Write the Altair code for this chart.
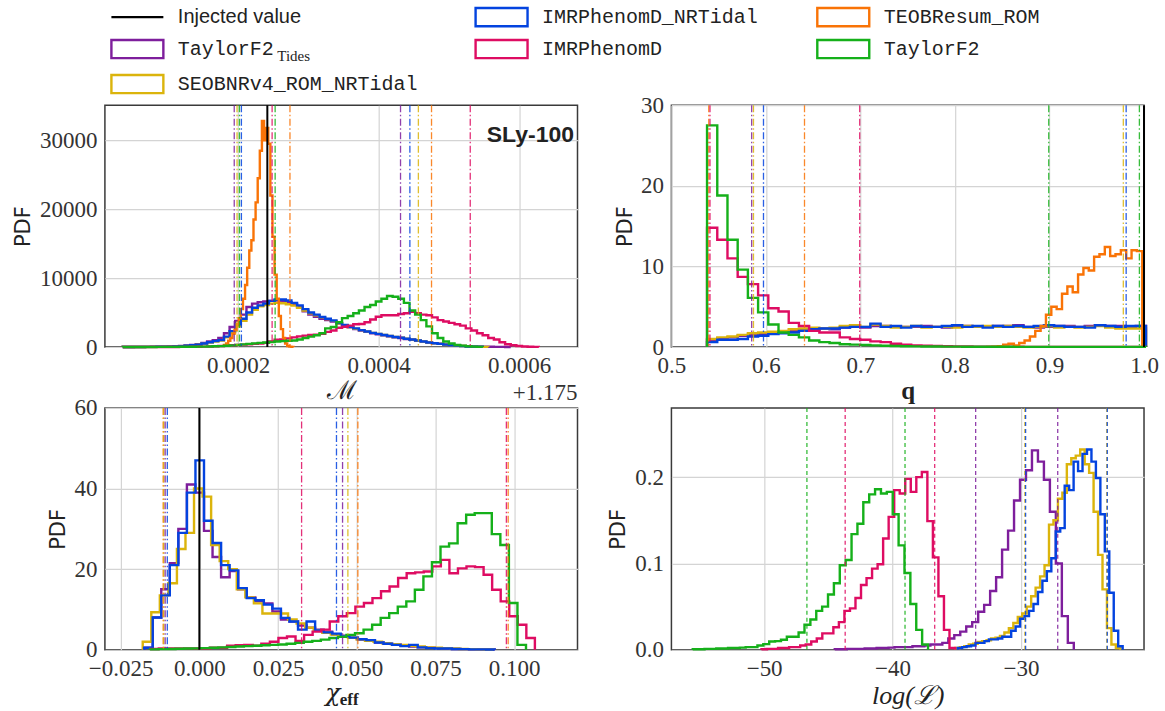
import altair as alt
import pandas as pd

# ---------------- series / colours ----------------
TF2T, SEOB, NRT, IMRD, TEOB, TF2 = ("TaylorF2_Tides", "SEOBNRv4_ROM_NRTidal", "IMRPhenomD_NRTidal",
                                     "IMRPhenomD", "TEOBResum_ROM", "TaylorF2")
COLOR = {TF2T: "#7e1e9c", SEOB: "#dbb40c", NRT: "#0343df", IMRD: "#de0c62", TEOB: "#f97306", TF2: "#15b01a"}

# ---------------- chirp mass (minus 1.175) ----------------
MC_START, MC_WIDTH = 0.000036, 0.000008
MC_TF2T = [10, 10, 15, 20, 25, 30, 40, 50, 70, 100, 150, 220, 300, 420, 600, 800, 1000, 1300, 2000, 2900, 3800,
           4700, 5800, 6300, 6500, 6600, 6700, 6750, 6700, 6500, 6200, 5800, 5200, 4700, 4400, 4100, 3900, 3700,
           3400, 3100, 2850, 2600, 2400, 2200, 2000, 1850, 1700, 1550, 1400, 1300, 1150, 1050, 900, 780, 650, 560,
           470, 380, 300, 230, 170, 120, 90, 60, 40, 30, 20, 15, 10]
MC_SEOB = [5, 5, 10, 10, 15, 20, 25, 35, 45, 70, 110, 160, 230, 330, 480, 650, 800, 950, 1400, 2100, 3000, 3800,
           4700, 5400, 5900, 6100, 6300, 6400, 6350, 6200, 6000, 5700, 5300, 4900, 4600, 4300, 4050, 3800, 3450,
           3150, 2900, 2650, 2450, 2250, 2050, 1900, 1750, 1600, 1450, 1350, 1200, 1100, 950, 800, 650, 550, 450,
           350, 260, 200, 140, 90, 60, 35, 20]
MC_NRT = [5, 5, 10, 10, 15, 20, 30, 40, 50, 80, 120, 180, 250, 350, 500, 700, 850, 1000, 1500, 2300, 3300, 4100,
          5000, 5700, 6050, 6300, 6700, 6900, 6900, 6750, 6400, 6050, 5500, 5000, 4700, 4350, 4100, 3850, 3500,
          3200, 2950, 2700, 2450, 2250, 2050, 1900, 1750, 1600, 1450, 1350, 1200, 1100, 950, 800, 650, 550, 450,
          350, 250, 200, 130, 80, 50, 30]
MC_IMRD = [5, 5, 5, 5, 5, 10, 10, 10, 10, 10, 20, 20, 30, 40, 60, 80, 110, 150, 200, 250, 300, 350, 400, 450, 500,
           600, 800, 1050, 1100, 1250, 1400, 1550, 1650, 1750, 1800, 1900, 2200, 2400, 2800, 2950, 3100, 3300, 3350,
           3600, 4000, 4400, 4600, 4600, 4600, 4800, 4900, 5100, 4900, 4700, 4600, 4300, 3900, 3700, 3500, 3300,
           3100, 2700, 2400, 2000, 1700, 1300, 1100, 700, 400, 250, 150, 80, 40, 20]
MC_TF2 = [5, 5, 5, 10, 10, 10, 15, 15, 20, 20, 30, 30, 40, 50, 60, 80, 100, 130, 180, 230, 300, 380, 450, 520, 600,
          650, 720, 800, 850, 900, 950, 1100, 1300, 1500, 1700, 2000, 2700, 2900, 3600, 4200, 4500, 4900, 5300, 5800,
          6100, 6600, 7000, 7400, 7300, 7000, 6400, 5300, 4700, 3900, 3000, 2000, 1300, 800, 500, 300, 200, 100,
          50, 20]
MC_TEOB_START, MC_TEOB_WIDTH = 0.000180, 0.000003
MC_TEOB = [300, 500, 900, 1300, 1900, 2500, 3300, 4200, 5500, 7000, 9000, 11500, 14000, 15500, 18500, 21000, 24500,
           28500, 32800, 30000, 31800, 29500, 22000, 16000, 10500, 7000, 4500, 2600, 1300, 500, 150, 50, 20]
MC_CI_X = [0.0001946, 0.0001986, 0.000202, 0.0002048, 0.0002485, 0.0002528, 0.0002739,
           0.0004312, 0.0004445, 0.0004566, 0.0004753, 0.0005304]
MC_CI_S = [TF2T, SEOB, TF2, NRT, IMRD, TF2, TEOB, TF2T, NRT, SEOB, TEOB, IMRD]
MC_INJ = 0.0002417

# ---------------- mass ratio q ----------------
Q_START, Q_WIDTH = 0.5377, 0.0108
Q_TF2 = [27.5, 18.8, 13.3, 9.6, 6.1, 4.3, 2.8, 1.8, 1.5, 1.2, 0.8, 0.6, 0.5, 0.35, 0.3, 0.25, 0.2, 0.15, 0.12, 0.1,
         0.08, 0.07, 0.06, 0.05, 0.05, 0.04, 0.04, 0.03, 0.03, 0.03, 0.02, 0.02, 0.02, 0.02, 0.02, 0.02, 0.01, 0.01,
         0.01, 0.01, 0.01, 0.01, 0.01]
Q_IMRD = [14.8, 13.3, 11.0, 8.7, 7.8, 6.4, 4.8, 4.4, 3.0, 2.6, 2.0, 1.8, 1.8, 1.2, 1.0, 0.9, 0.7, 0.6, 0.4, 0.3,
          0.2, 0.15, 0.12, 0.1, 0.08, 0.06, 0.05, 0.04, 0.04, 0.03, 0.03, 0.02, 0.02, 0.02, 0.02, 0.01, 0.01, 0.01,
          0.01, 0.01, 0.01, 0.01, 0.01]
Q_NRT = [0.6, 0.9, 0.9, 1.0, 1.3, 1.4, 1.6, 1.7, 1.8, 2.0, 2.2, 2.3, 2.3, 2.4, 2.5, 2.5, 2.9, 2.5, 2.6, 2.4, 2.6,
         2.5, 2.5, 2.6, 2.7, 2.5, 2.6, 2.4, 2.6, 2.5, 2.6, 2.5, 2.6, 2.7, 2.6, 2.5, 2.5, 2.4, 2.7, 2.6, 2.5, 2.6, 2.6]
Q_TF2T = [0.9, 1.1, 1.2, 1.4, 1.5, 1.6, 1.8, 1.9, 2.0, 2.1, 2.1, 2.3, 2.2, 2.4, 2.5, 2.4, 2.6, 2.6, 2.5, 2.5, 2.5,
          2.6, 2.5, 2.4, 2.6, 2.6, 2.5, 2.5, 2.6, 2.6, 2.7, 2.5, 2.4, 2.5, 2.6, 2.6, 2.5, 2.6, 2.7, 2.6, 2.6, 2.5, 2.6]
Q_SEOB = [1.0, 1.2, 1.3, 1.5, 1.7, 1.8, 1.9, 2.0, 2.2, 2.3, 2.4, 2.3, 2.4, 2.6, 2.7, 2.5, 2.8, 2.6, 2.4, 2.5, 2.6,
          2.4, 2.5, 2.5, 2.4, 2.6, 2.5, 2.6, 2.5, 2.6, 2.5, 2.4, 2.5, 2.6, 2.4, 2.5, 2.4, 2.5, 2.6, 2.4, 2.3, 2.3, 2.3]
Q_TEOB_START, Q_TEOB_WIDTH = 0.834, 0.00566
Q_TEOB = [0.02, 0.05, 0.1, 0.3, 0.4, 0.2, 0.5, 0.8, 1.3, 2.0, 2.6, 4.0, 5.0, 4.7, 6.6, 7.5, 6.8, 9.0, 9.8, 9.5,
          11.2, 11.5, 12.4, 11.3, 11.5, 12.0, 11.0, 12.0, 11.9]
Q_CI_X = [0.5395, 0.5408, 0.5849, 0.5868, 0.5974, 0.6408, 0.6992, 0.8992, 0.9781, 0.9811, 0.9951]
Q_CI_S = [TEOB, IMRD, TF2T, SEOB, NRT, TEOB, IMRD, TF2, SEOB, NRT, TF2]
Q_INJ = 1.0

# ---------------- chi_eff ----------------
CHI_WIDTH = 0.002715
CHI_NRT_START = -0.017534
CHI_NRT = [0.5, 8, 13.5, 21, 29, 39, 47, 32, 26.5, 21, 19.7, 15.3, 12.8, 12.3, 11.2, 10.2, 7.9, 7.0, 5.0, 7.0, 4.8,
           4.3, 4.0, 3.3, 3.0, 2.6, 2.4, 1.8, 1.5, 1.2, 0.9, 1.2, 0.6, 0.4, 0.3, 0.3, 0.2, 0.15, 0.1, 0.1, 0.05]
CHI_TF2T_START = -0.017534
CHI_TF2T = [0.5, 8, 15, 21.5, 30, 41, 39, 29.5, 23, 18, 19.5, 15, 13, 12, 11.5, 9.5, 7.5, 7, 6, 5.5, 5, 4.5, 3.8,
            3.5, 3, 2.5, 2.2, 1.8, 1.5, 1.3, 1.0, 0.8, 0.6, 0.5, 0.4, 0.3, 0.2, 0.15, 0.1, 0.1, 0.05]
CHI_SEOB_START = -0.017986
CHI_SEOB = [2, 9.3, 13.5, 16.5, 25, 29, 40, 38, 26, 22, 20, 15, 13, 11.5, 9, 9, 9, 7.5, 6.5, 5.5, 4.8, 4.2, 3.8,
            3.3, 3, 2.6, 2.2, 2.0, 1.6, 1.4, 1.2, 1.0, 0.8, 0.6, 0.5, 0.4, 0.3, 0.2, 0.15, 0.1, 0.05]
CHI_TF2_START = -0.01572
CHI_TF2 = [0.1, 0.15, 0.2, 0.25, 0.3, 0.35, 0.4, 0.5, 0.6, 0.7, 0.8, 0.9, 1.0, 1.1, 1.2, 1.3, 1.5, 1.7, 2.0, 2.2,
           2.5, 2.9, 3.2, 3.7, 4.1, 5.0, 6.2, 7.9, 9.1, 10.7, 12.0, 14.9, 18.2, 21.7, 25.6, 26.4, 31.4, 33.5, 33.9,
           33.9, 28.7, 26.0, 11.6, 1.2]
CHI_IMRD_START = -0.01561
CHI_IMRD = [0.2, 0.3, 0.3, 0.3, 0.3, 0.3, 0.3, 0.5, 0.5, 1.0, 1.1, 1.2, 1.0, 1.5, 2.0, 2.9, 3.3, 2.2, 3.7, 4.5,
            5.0, 7.0, 8.3, 9.1, 10.7, 11.6, 12.8, 14.5, 15.7, 17.8, 19.0, 19.2, 19.4, 20.7, 22.3, 19.0, 20.2, 20.7,
            20.5, 18.6, 14.9, 12.0, 8.3, 6.2, 2.9]
CHI_CI_X = [-0.0115, -0.01131, -0.01086, -0.01018, 0.03247, 0.04355, 0.04548, 0.04717, 0.05034, 0.09751, 0.09808]
CHI_CI_S = [TEOB, SEOB, TF2T, NRT, IMRD, NRT, TF2T, SEOB, TEOB, IMRD, TEOB]
CHI_INJ = 0.0

# ---------------- log likelihood ----------------
L_TF2_START, L_TF2_WIDTH = -55.56, 0.458
L_TF2 = [0.0005, 0.0005, 0.001, 0.001, 0.0015, 0.0015, 0.002, 0.002, 0.0025, 0.003, 0.003, 0.005, 0.0065, 0.0096,
         0.010, 0.0116, 0.015, 0.015, 0.020, 0.029, 0.035, 0.045, 0.050, 0.064, 0.077, 0.098, 0.104, 0.134, 0.146,
         0.171, 0.180, 0.186, 0.181, 0.183, 0.157, 0.121, 0.089, 0.053, 0.023, 0.006]
L_IMRD_START, L_IMRD_WIDTH = -50.208, 0.4306
L_IMRD = [0.0005, 0.001, 0.001, 0.002, 0.002, 0.003, 0.003, 0.005, 0.006, 0.0096, 0.013, 0.019, 0.019, 0.026,
          0.032, 0.045, 0.048, 0.060, 0.075, 0.083, 0.094, 0.099, 0.129, 0.154, 0.185, 0.181, 0.198, 0.183, 0.200,
          0.206, 0.149, 0.107, 0.062, 0.023, 0.002]
L_TF2T_START, L_TF2T_WIDTH = -44.5, 0.4653
L_TF2T = [0.0005, 0.0005, 0.001, 0.001, 0.001, 0.0015, 0.0015, 0.002, 0.002, 0.0025, 0.003, 0.003, 0.003, 0.004,
          0.004, 0.005, 0.006, 0.006, 0.008, 0.013, 0.017, 0.021, 0.027, 0.032, 0.044, 0.052, 0.068, 0.084, 0.116,
          0.138, 0.173, 0.197, 0.208, 0.231, 0.218, 0.197, 0.160, 0.100, 0.039, 0.008]
L_NRT_START, L_SEOB_START, L_NR_WIDTH = -34.93, -35.11, 0.3472
L_NRT = [0.002, 0.003, 0.004, 0.005, 0.008, 0.008, 0.010, 0.012, 0.012, 0.013, 0.015, 0.015, 0.022, 0.027, 0.036,
         0.039, 0.045, 0.053, 0.067, 0.080, 0.091, 0.106, 0.137, 0.141, 0.190, 0.185, 0.218, 0.207, 0.227, 0.232,
         0.218, 0.199, 0.157, 0.114, 0.066, 0.022, 0.004]
L_SEOB = [0.002, 0.003, 0.004, 0.006, 0.007, 0.009, 0.010, 0.011, 0.013, 0.014, 0.016, 0.020, 0.025, 0.031, 0.038,
          0.042, 0.050, 0.062, 0.072, 0.085, 0.098, 0.145, 0.150, 0.175, 0.182, 0.215, 0.222, 0.225, 0.232, 0.215,
          0.205, 0.160, 0.110, 0.070, 0.025, 0.006, 0.002]
L_CI_X = [-46.67, -43.69, -39.03, -36.72, -33.53, -29.70, -29.64, -27.14, -23.32, -23.28]
L_CI_S = [TF2, IMRD, TF2, IMRD, TF2T, SEOB, NRT, TF2T, SEOB, NRT]


# ---------------- helpers ----------------
def steps(name, start, width, counts):
    xs, ys = [start], [0.0]
    for i, c in enumerate(counts):
        xs += [start + i * width, start + (i + 1) * width]
        ys += [c, c]
    xs.append(start + len(counts) * width)
    ys.append(0.0)
    return pd.DataFrame({"x": xs, "y": ys, "i": list(range(len(xs))), "series": name})


W, H = 473, 242
RECT = "M-2,-0.7L2,-0.7L2,0.7L-2,0.7Z"
LINE = "M-2,0L2,0"


def legend(col, row, font, shape, label_expr=None):
    xs = [18, 382.5, 724.5]
    ys = [-102.7, -70.7, -35.7]
    kw = {}
    if label_expr is not None:
        kw["labelExpr"] = label_expr
    return alt.Legend(orient="none", legendX=xs[col], legendY=ys[row], title=None, symbolType=shape,
                      symbolSize=676, symbolStrokeWidth=2.4, symbolFillColor="white", symbolOpacity=1,
                      labelFont=font, labelFontSize=20, labelColor="#222", labelLimit=600, labelOffset=26,
                      padding=0, offset=0, **kw)


MONO = "Liberation Mono"
LEG_POS = {NRT: (1, 0), TEOB: (2, 0), TF2T: (0, 1), IMRD: (1, 1), TF2: (2, 1), SEOB: (0, 2)}
LEG_LABEL = {TF2T: "'TaylorF2'"}


def hist_layers(x, y, hists, with_legend=False):
    layers = []
    for name, start, width, counts in hists:
        df = steps(name, start, width, counts)
        if with_legend:
            c, r = LEG_POS[name]
            color = alt.Color("series:N", scale=alt.Scale(domain=[name], range=[COLOR[name]]),
                              legend=legend(c, r, MONO, RECT, LEG_LABEL.get(name)))
        else:
            color = alt.value(COLOR[name])
        layers.append(alt.Chart(df).mark_line(strokeWidth=2.4, strokeJoin="miter").encode(
            x=x, y=y, order=alt.Order("i:Q"), color=color))
    return layers


def ci_layer(x, xs, ss, dash):
    df = pd.DataFrame({"x": xs, "c": [COLOR[s] for s in ss]})
    return alt.Chart(df).mark_rule(strokeDash=dash, strokeWidth=1.3, opacity=0.85).encode(
        x=x, color=alt.Color("c:N", scale=None))


def text_layer(t, xv, yv, **kw):
    return alt.Chart(pd.DataFrame({"t": [t]})).mark_text(**kw).encode(
        text="t:N", x=alt.value(xv), y=alt.value(yv))


DASHDOT = [7, 2.5, 1.5, 2.5]
YTITLE = dict(title="PDF", titleFont="DejaVu Sans", titleFontSize=21, titleFontWeight="normal", titleColor="#222",
              titleAngle=270, titleBaseline="alphabetic", titleAlign="center", titleY=H / 2)

# ---------------- top-left: chirp mass ----------------
x_mc = alt.X("x:Q", scale=alt.Scale(domain=[0.0000106, 0.000683], nice=False, zero=False),
             axis=alt.Axis(values=[0.0002, 0.0004, 0.0006], format=".4f", title="ℳ", titleFont="DejaVu Serif",
                           titleFontSize=26, titleFontWeight="normal", titleColor="#222", titleY=52,
                           titleBaseline="alphabetic"))
y_mc = alt.Y("y:Q", scale=alt.Scale(domain=[0, 35100], nice=False),
             axis=alt.Axis(values=[0, 10000, 20000, 30000], format="d", titleX=-75, **YTITLE))
mc_hists = [(TF2T, MC_START, MC_WIDTH, MC_TF2T), (SEOB, MC_START, MC_WIDTH, MC_SEOB),
            (NRT, MC_START, MC_WIDTH, MC_NRT), (IMRD, MC_START, MC_WIDTH, MC_IMRD),
            (TEOB, MC_TEOB_START, MC_TEOB_WIDTH, MC_TEOB), (TF2, MC_START, MC_WIDTH, MC_TF2)]
inj_mc = alt.Chart(pd.DataFrame({"x": [MC_INJ], "label": ["Injected value"]})).mark_rule(
    strokeWidth=2, color="black").encode(
    x=x_mc, color=alt.Color("label:N", scale=alt.Scale(domain=["Injected value"], range=["black"]),
                            legend=legend(0, 0, "Liberation Sans", LINE)))
tl = alt.layer(
    *hist_layers(x_mc, y_mc, mc_hists, with_legend=True),
    ci_layer(x_mc, MC_CI_X, MC_CI_S, DASHDOT),
    inj_mc,
    text_layer("SLy-100", 469.5, 36.5, align="right", baseline="alphabetic", font="Liberation Sans",
               fontWeight="bold", fontSize=23, color="#222"),
    text_layer("+1.175", 473, 295.5, align="right", baseline="alphabetic", font="Liberation Serif",
               fontSize=23, color="#333"),
    text_layer("Tides", 172.5, -44.0, align="left", baseline="alphabetic", font="Liberation Serif",
               fontSize=15, color="#222"),
).resolve_scale(color="independent").properties(width=W, height=H)

# ---------------- top-right: q ----------------
x_q = alt.X("x:Q", scale=alt.Scale(domain=[0.5, 1.0], nice=False, zero=False),
            axis=alt.Axis(values=[0.5, 0.6, 0.7, 0.8, 0.9, 1.0], format=".1f", title="q",
                          titleFont="Liberation Serif", titleFontSize=25, titleFontWeight="bold",
                          titleColor="#222", titleY=52, titleBaseline="alphabetic"))
y_q = alt.Y("y:Q", scale=alt.Scale(domain=[0, 30], nice=False),
            axis=alt.Axis(values=[0, 10, 20, 30], format="d", titleX=-40, **YTITLE))
q_hists = [(TF2T, Q_START, Q_WIDTH, Q_TF2T), (SEOB, Q_START, Q_WIDTH, Q_SEOB), (NRT, Q_START, Q_WIDTH, Q_NRT),
           (IMRD, Q_START, Q_WIDTH, Q_IMRD), (TEOB, Q_TEOB_START, Q_TEOB_WIDTH, Q_TEOB),
           (TF2, Q_START, Q_WIDTH, Q_TF2)]
tr = alt.layer(
    *hist_layers(x_q, y_q, q_hists),
    ci_layer(x_q, Q_CI_X, Q_CI_S, DASHDOT),
    alt.Chart(pd.DataFrame({"x": [Q_INJ]})).mark_rule(strokeWidth=2, color="black").encode(x=x_q),
).properties(width=W, height=H)

# ---------------- bottom-left: chi_eff ----------------
x_chi = alt.X("x:Q", scale=alt.Scale(domain=[-0.030, 0.1201], nice=False, zero=False),
              axis=alt.Axis(values=[-0.025, 0.0, 0.025, 0.05, 0.075, 0.1], format=".3f", title=None))
y_chi = alt.Y("y:Q", scale=alt.Scale(domain=[0, 60], nice=False),
              axis=alt.Axis(values=[0, 20, 40, 60], format="d", titleX=-40, **YTITLE))
chi_hists = [(TF2T, CHI_TF2T_START, CHI_WIDTH, CHI_TF2T), (SEOB, CHI_SEOB_START, CHI_WIDTH, CHI_SEOB),
             (NRT, CHI_NRT_START, CHI_WIDTH, CHI_NRT), (IMRD, CHI_IMRD_START, CHI_WIDTH, CHI_IMRD),
             (TF2, CHI_TF2_START, CHI_WIDTH, CHI_TF2)]
bl = alt.layer(
    *hist_layers(x_chi, y_chi, chi_hists),
    ci_layer(x_chi, CHI_CI_X, CHI_CI_S, DASHDOT),
    alt.Chart(pd.DataFrame({"x": [CHI_INJ]})).mark_rule(strokeWidth=2, color="black").encode(x=x_chi),
    text_layer("χ", 220.5, 293.5, align="left", baseline="alphabetic", font="DejaVu Serif", fontStyle="italic",
               fontSize=25, color="#222"),
    text_layer("eff", 235, 297.5, align="left", baseline="alphabetic", font="Liberation Serif",
               fontWeight="bold", fontSize=17, color="#222"),
).properties(width=W, height=H)

# ---------------- bottom-right: log L ----------------
x_l = alt.X("x:Q", scale=alt.Scale(domain=[-57.22, -20.42], nice=False, zero=False),
            axis=alt.Axis(values=[-50, -40, -30], format="d", title="log(ℒ)", titleFont="Liberation Serif",
                          titleFontStyle="italic", titleFontSize=26, titleFontWeight="normal", titleColor="#222",
                          titleY=54, titleBaseline="alphabetic"))
y_l = alt.Y("y:Q", scale=alt.Scale(domain=[0, 0.2802], nice=False),
            axis=alt.Axis(values=[0.0, 0.1, 0.2], format=".1f", titleX=-47, **YTITLE))
l_hists = [(TF2T, L_TF2T_START, L_TF2T_WIDTH, L_TF2T), (SEOB, L_SEOB_START, L_NR_WIDTH, L_SEOB),
           (NRT, L_NRT_START, L_NR_WIDTH, L_NRT), (IMRD, L_IMRD_START, L_IMRD_WIDTH, L_IMRD),
           (TF2, L_TF2_START, L_TF2_WIDTH, L_TF2)]
br = alt.layer(
    *hist_layers(x_l, y_l, l_hists),
    ci_layer(x_l, L_CI_X, L_CI_S, [4, 3]),
).properties(width=W, height=H)

chart = alt.concat(tl, tr, bl, br, columns=2, spacing={"row": 61, "column": 94}, bounds="flush").resolve_scale(
    color="independent"
).properties(
    padding={"left": 12, "top": 1, "right": 5, "bottom": 0}, background="white"
).configure_view(
    stroke="#3a3a3a", strokeWidth=1.5
).configure_axis(
    labelFont="Liberation Serif", labelFontSize=23, labelColor="#333", grid=True, gridColor="#d4d4d4",
    gridWidth=1.2, domain=False, ticks=False, labelPadding=8, labelFlush=False, labelOverlap=False
)

chart.save("out.html", embed_options={"renderer": "svg", "actions": False})
